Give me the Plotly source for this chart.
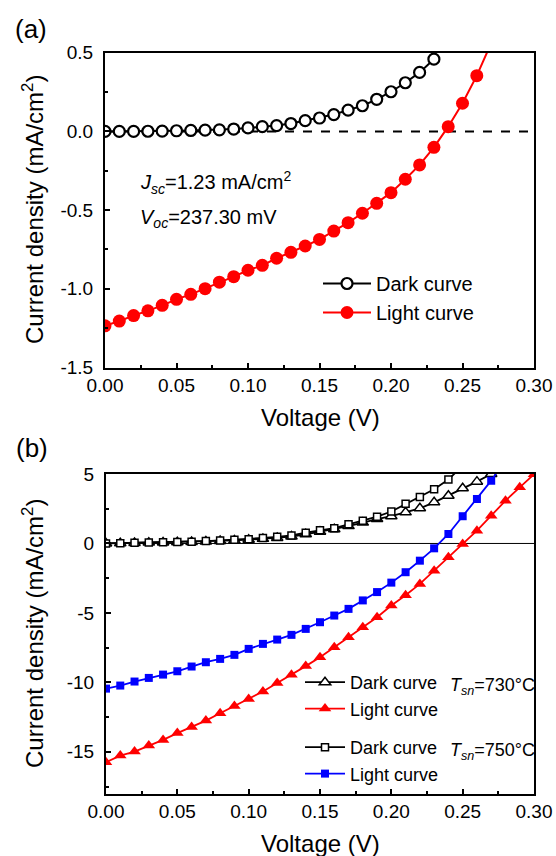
import plotly.graph_objects as go

# ---------------- data ----------------
# Panel (a)
V_a_dark = [0.00, 0.01, 0.02, 0.03, 0.04, 0.05, 0.06, 0.07, 0.08, 0.09, 0.10, 0.11,
            0.12, 0.13, 0.14, 0.15, 0.16, 0.17, 0.18, 0.19, 0.20, 0.21, 0.22, 0.23]
J_a_dark = [0.000, 0.000, 0.000, 0.001, 0.002, 0.004, 0.006, 0.008, 0.010, 0.015, 0.022, 0.030,
            0.037, 0.050, 0.068, 0.085, 0.107, 0.135, 0.163, 0.204, 0.252, 0.309, 0.375, 0.459]
V_a_light = [0.00, 0.01, 0.02, 0.03, 0.04, 0.05, 0.06, 0.07, 0.08, 0.09, 0.10, 0.11, 0.12, 0.13,
             0.14, 0.15, 0.16, 0.17, 0.18, 0.19, 0.20, 0.21, 0.22, 0.23, 0.24, 0.25, 0.26, 0.27]
J_a_light = [-1.235, -1.205, -1.170, -1.140, -1.105, -1.067, -1.035, -0.999, -0.958, -0.923,
             -0.882, -0.851, -0.806, -0.768, -0.728, -0.686, -0.633, -0.580, -0.520, -0.457,
             -0.389, -0.304, -0.213, -0.101, 0.030, 0.179, 0.354, 0.560]

# Panel (b)
V_b_dark750 = [0.00, 0.01, 0.02, 0.03, 0.04, 0.05, 0.06, 0.07, 0.08, 0.09, 0.10, 0.11, 0.12,
               0.13, 0.14, 0.15, 0.16, 0.17, 0.18, 0.19, 0.20, 0.21, 0.22, 0.23, 0.24, 0.25]
J_b_dark750 = [0.00, 0.02, 0.05, 0.07, 0.08, 0.10, 0.13, 0.17, 0.22, 0.27, 0.31, 0.40, 0.48,
               0.58, 0.77, 0.95, 1.10, 1.38, 1.64, 1.93, 2.30, 2.85, 3.35, 3.90, 4.60, 5.60]
V_b_dark730 = [0.00, 0.01, 0.02, 0.03, 0.04, 0.05, 0.06, 0.07, 0.08, 0.09, 0.10, 0.11, 0.12, 0.13,
               0.14, 0.15, 0.16, 0.17, 0.18, 0.19, 0.20, 0.21, 0.22, 0.23, 0.24, 0.25, 0.26, 0.27]
J_b_dark730 = [0.00, 0.02, 0.04, 0.06, 0.07, 0.09, 0.11, 0.14, 0.18, 0.22, 0.27, 0.33, 0.40, 0.50,
               0.66, 0.85, 1.02, 1.25, 1.50, 1.76, 1.96, 2.24, 2.53, 2.96, 3.44, 3.97, 4.45, 5.00]
V_b_light750 = [0.00, 0.01, 0.02, 0.03, 0.04, 0.05, 0.06, 0.07, 0.08, 0.09, 0.10, 0.11, 0.12, 0.13,
                0.14, 0.15, 0.16, 0.17, 0.18, 0.19, 0.20, 0.21, 0.22, 0.23, 0.24, 0.25, 0.26, 0.27,
                0.28]
J_b_light750 = [-10.45, -10.23, -9.94, -9.68, -9.44, -9.20, -8.86, -8.55, -8.31, -8.02, -7.59,
                -7.23, -6.92, -6.58, -6.15, -5.67, -5.19, -4.71, -4.10, -3.50, -2.82, -2.07,
                -1.24, -0.35, 0.68, 1.96, 3.20, 4.52, 6.00]
V_b_light730 = [0.00, 0.01, 0.02, 0.03, 0.04, 0.05, 0.06, 0.07, 0.08, 0.09, 0.10, 0.11, 0.12, 0.13,
                0.14, 0.15, 0.16, 0.17, 0.18, 0.19, 0.20, 0.21, 0.22, 0.23, 0.24, 0.25, 0.26, 0.27,
                0.28, 0.29, 0.30]
J_b_light730 = [-15.75, -15.27, -14.98, -14.55, -14.14, -13.65, -13.22, -12.75, -12.22, -11.71,
                -11.19, -10.66, -10.04, -9.46, -8.83, -8.19, -7.47, -6.75, -6.03, -5.31, -4.47,
                -3.73, -2.91, -1.96, -0.99, -0.04, 0.92, 2.00, 3.08, 4.04, 4.98]

# Tick labels
x_tickvals = [0.00, 0.05, 0.10, 0.15, 0.20, 0.25, 0.30]
x_ticktext = ["0.00", "0.05", "0.10", "0.15", "0.20", "0.25", "0.30"]
ya_tickvals = [0.5, 0.0, -0.5, -1.0, -1.5]
ya_ticktext = ["0.5", "0.0", "-0.5", "-1.0", "-1.5"]
yb_tickvals = [5, 0, -5, -10, -15]
yb_ticktext = ["5", "0", "-5", "-10", "-15"]

FONT = "Liberation Sans, Arial, sans-serif"
W, H = 556, 856


def px_x(x):
    return x / W


def px_y(y):
    return 1 - y / H


fig = go.Figure()

# Panel (a)
fig.add_trace(go.Scatter(
    x=V_a_dark, y=J_a_dark, mode="lines+markers", name="Dark curve",
    line=dict(color="black", width=2),
    marker=dict(symbol="circle", size=11, color="white", line=dict(color="black", width=2.2)),
    xaxis="x", yaxis="y", legend="legend"))
fig.add_trace(go.Scatter(
    x=V_a_light, y=J_a_light, mode="lines+markers", name="Light curve",
    line=dict(color="#ff0000", width=2),
    marker=dict(symbol="circle", size=13, color="#ff0000"),
    xaxis="x", yaxis="y", legend="legend"))

# Panel (b)
fig.add_trace(go.Scatter(
    x=V_b_dark730, y=J_b_dark730, mode="lines+markers", name="Dark curve",
    line=dict(color="black", width=1.8),
    marker=dict(symbol="triangle-up", size=10, color="white", line=dict(color="black", width=1.5)),
    xaxis="x2", yaxis="y2", legend="legend2"))
fig.add_trace(go.Scatter(
    x=V_b_light730, y=J_b_light730, mode="lines+markers", name="Light curve",
    line=dict(color="#ff0000", width=1.8),
    marker=dict(symbol="triangle-up", size=11, color="#ff0000"),
    xaxis="x2", yaxis="y2", legend="legend2"))
fig.add_trace(go.Scatter(
    x=V_b_dark750, y=J_b_dark750, mode="lines+markers", name="Dark curve",
    line=dict(color="black", width=1.8),
    marker=dict(symbol="square", size=7, color="white", line=dict(color="black", width=1.5)),
    xaxis="x2", yaxis="y2", legend="legend3"))
fig.add_trace(go.Scatter(
    x=V_b_light750, y=J_b_light750, mode="lines+markers", name="Light curve",
    line=dict(color="#0000ff", width=1.8),
    marker=dict(symbol="square", size=8, color="#0000ff"),
    xaxis="x2", yaxis="y2", legend="legend3"))

axis_common = dict(showline=True, linecolor="black", linewidth=2, mirror=True,
                   showgrid=False, zeroline=False, ticks="inside", ticklen=5,
                   tickwidth=1.5, tickcolor="black", automargin=False,
                   tickfont=dict(family=FONT, size=19, color="black"))

fig.update_layout(
    width=W, height=H, margin=dict(l=0, r=0, t=0, b=0, autoexpand=False),
    paper_bgcolor="white", plot_bgcolor="white",
    font=dict(family=FONT, color="black"),
    xaxis=dict(domain=[px_x(105), px_x(534)], range=[0, 0.3], anchor="y",
               tickvals=x_tickvals, ticktext=x_ticktext,
               minor=dict(dtick=0.025, tick0=0, ticks="inside", ticklen=3, tickwidth=1.5, tickcolor="black"),
               **axis_common),
    yaxis=dict(domain=[px_y(367.5), px_y(52.7)], range=[-1.5, 0.5], anchor="x",
               tickvals=ya_tickvals, ticktext=ya_ticktext, ticklabelstandoff=6,
               minor=dict(dtick=0.25, tick0=0, ticks="inside", ticklen=3, tickwidth=1.5, tickcolor="black"),
               **axis_common),
    xaxis2=dict(domain=[px_x(106), px_x(534)], range=[0, 0.3], anchor="y2",
                tickvals=x_tickvals, ticktext=x_ticktext,
                minor=dict(dtick=0.025, tick0=0, ticks="inside", ticklen=3, tickwidth=1.5, tickcolor="black"),
                **axis_common),
    yaxis2=dict(domain=[px_y(793.5), px_y(474)], range=[-18, 5], anchor="x2",
                tickvals=yb_tickvals, ticktext=yb_ticktext, ticklabelstandoff=6,
                minor=dict(dtick=2.5, tick0=0, ticks="inside", ticklen=3, tickwidth=1.5, tickcolor="black"),
                **axis_common),
    legend=dict(x=px_x(318), y=px_y(264), xanchor="left", yanchor="top",
                bgcolor="rgba(0,0,0,0)", font=dict(family=FONT, size=20, color="black"),
                itemwidth=48),
    legend2=dict(x=px_x(300), y=px_y(664), xanchor="left", yanchor="top",
                 bgcolor="rgba(0,0,0,0)", font=dict(family=FONT, size=18, color="black"),
                 itemwidth=40),
    legend3=dict(x=px_x(300), y=px_y(729), xanchor="left", yanchor="top",
                 bgcolor="rgba(0,0,0,0)", font=dict(family=FONT, size=18, color="black"),
                 itemwidth=40),
    showlegend=True,
)

# zero lines
fig.add_shape(type="line", xref="x", yref="y", x0=0, x1=0.3, y0=0, y1=0,
              line=dict(color="black", width=2, dash="dash"), layer="below")
fig.add_shape(type="line", xref="x2", yref="y2", x0=0, x1=0.3, y0=0, y1=0,
              line=dict(color="black", width=1), layer="below")


def add_text(text, x, y, size, xanchor="center", yanchor="middle", angle=0):
    fig.add_annotation(text=text, x=px_x(x), y=px_y(y), xref="paper", yref="paper",
                       xanchor=xanchor, yanchor=yanchor, showarrow=False, textangle=angle,
                       font=dict(family=FONT, size=size, color="black"))


add_text("(a)", 31, 29, 26)
add_text("(b)", 32, 448, 26)
add_text("Current density (mA/cm<sup>2</sup>)", 33, 210, 24, angle=-90)
add_text("Current density (mA/cm<sup>2</sup>)", 33, 634, 24, angle=-90)
add_text("Voltage (V)", 320, 417, 24)
add_text("Voltage (V)", 320, 843, 24)
add_text("<i>J</i><sub><i>sc</i></sub>=1.23 mA/cm<sup>2</sup>", 138, 183, 20, xanchor="left")
add_text("<i>V</i><sub><i>oc</i></sub>=237.30 mV", 138, 218, 20, xanchor="left")
add_text("<i>T</i><sub><i>sn</i></sub>=730°C", 448, 686, 18, xanchor="left")
add_text("<i>T</i><sub><i>sn</i></sub>=750°C", 448, 751, 18, xanchor="left")

fig.write_html("out.html")
